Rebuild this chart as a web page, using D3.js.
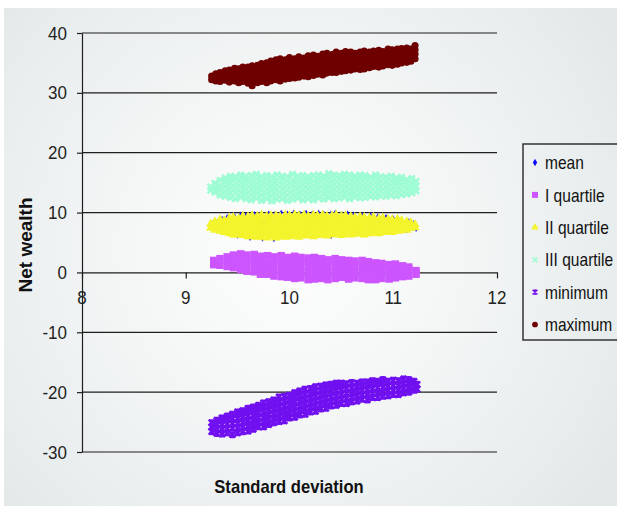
<!DOCTYPE html>
<html>
<head>
<meta charset="utf-8">
<script src="https://cdn.jsdelivr.net/npm/d3@7"></script>
<style>
  body { margin: 0; background: #fff; }
  svg { display: block; }
  text { font-family: "Liberation Sans", Arial, sans-serif; }
</style>
</head>
<body>
<svg id="chart" width="617" height="506"></svg>
<script>
// Axis ticks
const xTicks = [8, 9, 10, 11, 12];
const yTicks = [-30, -20, -10, 0, 10, 20, 30, 40];
const seriesNames = ["mean", "I quartile", "II quartile", "III quartile", "minimum", "maximum"];

// Each entry: [standard deviation, net wealth values observed at that standard deviation...]
const meanCols = [
  [9.24, 7.6], [9.26, 8.3], [9.29, 8.6], [9.35, 9.0], [9.40, 9.3], [9.47, 9.5], [9.53, 9.7],
  [9.58, 9.6], [9.66, 9.8], [9.72, 9.7], [9.80, 9.9], [9.86, 9.8], [9.92, 10.0], [9.98, 9.9],
  [10.04, 10.0], [10.10, 9.9], [10.16, 10.0], [10.22, 9.9], [10.28, 10.0], [10.33, 9.9],
  [10.40, 9.9, 6.0], [10.44, 10.0], [10.50, 9.8, 7.9], [10.56, 9.9], [10.62, 9.7], [10.70, 9.6],
  [10.78, 9.6], [10.85, 9.4], [10.93, 9.3], [11.00, 9.1], [11.08, 8.9], [11.15, 8.6],
  [11.20, 8.3], [11.22, 7.2], [11.18, 7.5], [11.21, 7.9], [11.13, 7.0],
  [9.50, 6.1], [9.62, 5.7], [9.74, 5.6], [9.85, 5.5],
  [9.60, 7.5], [9.90, 7.8], [10.20, 7.6], [10.80, 7.7], [9.75, 8.4], [10.05, 6.9],
  [10.35, 8.2], [10.65, 7.0], [10.95, 8.0]
];

const q1Cols = [
  [9.27, 1.3, 2.0], [9.33, 1.2, 2.3], [9.40, 1.0, 2.0, 2.6], [9.46, 0.8, 1.8, 2.9],
  [9.53, 0.5, 1.5, 2.4, 3.1], [9.59, 0.2, 1.3, 2.3, 2.9], [9.66, 0.1, 1.0, 2.1, 3.0],
  [9.72, -0.3, 0.8, 1.8, 2.7], [9.79, -0.3, 0.7, 1.6, 2.8], [9.85, -0.6, 0.5, 1.5, 2.4, 2.6],
  [9.92, -0.7, 0.3, 1.3, 2.2, 2.8], [9.98, -0.8, 0.2, 1.2, 2.1, 2.5], [10.05, -1.0, 0.1, 1.1, 2.0, 2.7],
  [10.11, -0.9, 0.0, 1.0, 1.9, 2.5], [10.18, -1.2, -0.2, 0.9, 1.8, 2.4], [10.24, -1.1, -0.1, 0.8, 1.9, 2.5],
  [10.31, -1.0, 0.0, 1.0, 2.0, 2.3], [10.37, -1.2, -0.1, 0.9, 1.8, 2.1], [10.44, -1.0, 0.0, 1.0, 2.0, 2.3],
  [10.50, -0.8, 0.1, 1.1, 2.1], [10.57, -1.1, 0.0, 1.0, 2.0], [10.63, -0.9, 0.1, 1.1, 1.9],
  [10.70, -1.0, 0.0, 1.0, 2.0], [10.76, -1.2, -0.1, 0.9, 1.8], [10.83, -1.2, -0.1, 0.8, 1.6],
  [10.89, -1.0, 0.0, 1.0, 1.5], [10.96, -1.1, 0.0, 0.9, 1.3], [11.02, -0.9, 0.1, 1.1, 1.4],
  [11.09, -0.7, 0.2, 1.1], [11.15, -0.6, 0.4, 0.9], [11.22, -0.3, 0.3]
];

const q2Cols = [
  [9.24, 7.4, 8.1], [9.28, 7.1, 7.8, 8.5], [9.33, 6.9, 7.6, 8.3, 8.8], [9.37, 6.7, 7.4, 8.1, 8.7],
  [9.42, 6.5, 7.2, 7.9, 8.6, 9.1], [9.46, 6.3, 7.1, 7.8, 8.5, 9.2], [9.51, 6.3, 7.0, 7.7, 8.4, 9.0],
  [9.55, 6.2, 6.9, 7.6, 8.3, 9.0, 9.4], [9.60, 6.0, 6.8, 7.5, 8.2, 8.9, 9.3],
  [9.64, 6.0, 6.7, 7.4, 8.1, 8.8, 9.5], [9.69, 5.9, 6.7, 7.4, 8.1, 8.8, 9.4],
  [9.73, 5.9, 6.6, 7.3, 8.0, 8.7, 9.6], [9.78, 5.8, 6.6, 7.3, 8.0, 8.7, 9.4],
  [9.82, 6.0, 6.7, 7.4, 8.1, 8.8, 9.5], [9.87, 5.8, 6.6, 7.3, 8.0, 8.7, 9.5],
  [9.91, 6.0, 6.7, 7.4, 8.1, 8.8, 9.3], [9.96, 5.9, 6.6, 7.3, 8.0, 8.7, 9.6],
  [10.00, 6.0, 6.7, 7.4, 8.1, 8.8, 9.5], [10.05, 6.1, 6.8, 7.5, 8.2, 8.9, 9.6],
  [10.09, 5.9, 6.7, 7.4, 8.1, 8.8, 9.5], [10.14, 6.1, 6.8, 7.5, 8.2, 8.9, 9.6],
  [10.18, 6.2, 6.9, 7.6, 8.3, 9.0, 9.4], [10.23, 6.0, 6.8, 7.5, 8.2, 8.9, 9.6],
  [10.27, 6.2, 6.9, 7.6, 8.3, 9.0, 9.5], [10.32, 6.3, 7.0, 7.7, 8.4, 9.1, 9.6],
  [10.36, 6.1, 6.9, 7.6, 8.3, 9.0, 9.4], [10.41, 6.3, 7.0, 7.7, 8.4, 9.1, 9.5],
  [10.45, 6.4, 7.1, 7.8, 8.5, 9.2, 9.6], [10.50, 6.2, 7.0, 7.7, 8.4, 9.1, 9.4],
  [10.54, 6.4, 7.1, 7.8, 8.5, 9.2, 9.5], [10.59, 6.3, 7.0, 7.7, 8.4, 9.1, 9.3],
  [10.63, 6.4, 7.1, 7.8, 8.5, 9.2], [10.68, 6.5, 7.2, 7.9, 8.6, 9.3],
  [10.72, 6.3, 7.1, 7.8, 8.5, 9.2], [10.77, 6.5, 7.2, 7.9, 8.6, 9.1],
  [10.81, 6.6, 7.3, 8.0, 8.7, 9.2], [10.86, 6.5, 7.2, 7.9, 8.6, 9.0],
  [10.90, 6.7, 7.4, 8.1, 8.8, 9.1], [10.95, 6.8, 7.5, 8.2, 8.9], [10.99, 6.7, 7.5, 8.2, 8.8],
  [11.04, 6.9, 7.6, 8.3, 8.9], [11.08, 7.0, 7.7, 8.4, 8.7], [11.13, 7.1, 7.8, 8.5],
  [11.17, 7.4, 7.9, 8.3], [11.21, 7.5, 8.0]
];

const q3Cols = [
  [9.24, 13.7, 14.3], [9.28, 13.4, 14.1, 14.9], [9.33, 12.9, 13.7, 14.5, 15.4],
  [9.38, 12.7, 13.5, 14.3, 15.1, 15.8], [9.43, 12.5, 13.3, 14.1, 14.9, 15.7, 16.1],
  [9.48, 12.3, 13.2, 14.0, 14.8, 15.6, 16.0], [9.53, 12.6, 13.4, 14.2, 15.0, 15.8, 16.3],
  [9.58, 12.3, 13.1, 13.9, 14.7, 15.5, 16.1], [9.63, 12.1, 13.0, 13.8, 14.6, 15.4, 16.2],
  [9.68, 12.4, 13.2, 14.0, 14.8, 15.6, 16.4], [9.73, 12.0, 12.9, 13.7, 14.5, 15.3, 16.0],
  [9.78, 12.3, 13.1, 13.9, 14.7, 15.5, 16.2], [9.83, 11.9, 12.8, 13.6, 14.4, 15.2, 16.0],
  [9.88, 12.2, 13.0, 13.8, 14.6, 15.4, 16.3], [9.93, 12.3, 13.1, 13.9, 14.7, 15.5, 16.1],
  [9.98, 12.0, 12.9, 13.7, 14.5, 15.3, 16.0], [10.03, 12.2, 13.0, 13.8, 14.6, 15.4, 16.4],
  [10.08, 12.4, 13.2, 14.0, 14.8, 15.6, 16.1], [10.13, 12.1, 13.0, 13.8, 14.6, 15.4, 16.2],
  [10.18, 12.3, 13.1, 13.9, 14.7, 15.5, 16.0], [10.23, 12.1, 12.9, 13.7, 14.5, 15.3, 16.2],
  [10.28, 12.4, 13.2, 14.0, 14.8, 15.6, 16.3], [10.33, 12.2, 13.1, 13.9, 14.7, 15.5, 16.1],
  [10.38, 12.5, 13.3, 14.1, 14.9, 15.7, 16.5], [10.43, 12.3, 13.1, 13.9, 14.7, 15.5, 16.3],
  [10.48, 12.4, 13.2, 14.0, 14.8, 15.6, 16.2], [10.53, 12.6, 13.3, 14.1, 14.9, 15.7, 16.4],
  [10.58, 12.3, 13.1, 13.9, 14.7, 15.5, 16.3], [10.63, 12.6, 13.4, 14.2, 15.0, 15.8, 16.1],
  [10.68, 12.4, 13.2, 14.0, 14.8, 15.6, 16.3], [10.73, 12.5, 13.3, 14.1, 14.9, 15.7, 16.2],
  [10.78, 12.7, 13.5, 14.3, 15.1, 15.9], [10.83, 12.6, 13.4, 14.2, 15.0, 15.8, 16.3],
  [10.88, 12.8, 13.6, 14.4, 15.2, 16.0], [10.93, 12.7, 13.5, 14.3, 15.1, 15.9],
  [10.98, 12.9, 13.7, 14.5, 15.3, 16.1], [11.03, 12.8, 13.6, 14.4, 15.2, 15.8],
  [11.08, 13.0, 13.8, 14.6, 15.4, 15.9], [11.13, 13.1, 13.9, 14.7, 15.5],
  [11.18, 13.3, 14.1, 14.9, 15.7], [11.22, 13.6, 14.4, 15.2]
];

const minCols = [
  [9.25, -26.6, -25.8, -25.1], [9.30, -26.9, -26.1, -25.3, -24.7],
  [9.35, -27.0, -26.2, -25.4, -24.6, -24.3], [9.40, -26.8, -26.1, -25.3, -24.5, -24.0],
  [9.45, -27.1, -26.0, -25.3, -24.4, -23.7], [9.50, -26.8, -26.0, -25.2, -24.4, -23.6, -23.3],
  [9.55, -26.6, -25.8, -25.1, -24.2, -23.4, -23.1], [9.60, -26.5, -25.7, -24.8, -24.0, -23.2, -22.7],
  [9.65, -26.2, -25.4, -24.6, -23.9, -23.0, -22.5], [9.70, -25.8, -25.1, -24.3, -23.5, -22.7, -22.2],
  [9.75, -25.8, -24.9, -24.2, -23.3, -22.5, -21.8], [9.80, -25.4, -24.6, -23.8, -23.0, -22.3, -21.6],
  [9.85, -25.1, -24.4, -23.6, -22.8, -22.0, -21.3], [9.90, -24.9, -24.1, -23.4, -22.5, -21.7, -20.8],
  [9.95, -24.8, -23.9, -23.1, -22.3, -21.5, -20.7], [10.00, -24.3, -23.6, -22.8, -22.1, -21.2, -20.5],
  [10.05, -24.2, -23.3, -22.5, -21.7, -20.9, -20.1], [10.10, -23.8, -23.1, -22.3, -21.5, -20.6, -19.8],
  [10.15, -23.7, -22.8, -22.0, -21.2, -20.4, -19.5], [10.20, -23.3, -22.6, -21.8, -21.0, -20.2, -19.4],
  [10.25, -23.2, -22.3, -21.5, -20.7, -19.9, -19.1], [10.30, -22.8, -22.1, -21.3, -20.5, -19.7, -19.0],
  [10.35, -22.7, -21.8, -21.0, -20.2, -19.4, -18.8], [10.40, -22.3, -21.6, -20.8, -20.0, -19.2, -18.7],
  [10.45, -22.2, -21.4, -20.6, -19.8, -19.0, -18.5], [10.50, -21.9, -21.2, -20.4, -19.6, -18.8, -18.5],
  [10.55, -21.9, -21.0, -20.2, -19.4, -18.6], [10.60, -21.6, -20.9, -20.1, -19.3, -18.4],
  [10.65, -21.5, -20.7, -19.9, -19.1, -18.5], [10.70, -21.2, -20.5, -19.7, -18.9, -18.3],
  [10.75, -21.3, -20.4, -19.6, -18.8, -18.3], [10.80, -20.9, -20.2, -19.4, -18.6, -18.1],
  [10.85, -20.9, -20.1, -19.3, -18.5, -18.2], [10.90, -20.7, -20.0, -19.2, -18.4, -17.9],
  [10.95, -20.6, -19.8, -19.0, -18.2], [11.00, -20.4, -19.7, -18.9, -18.0],
  [11.05, -20.4, -19.6, -18.8, -18.1], [11.10, -20.1, -19.4, -18.6, -17.8],
  [11.15, -20.0, -19.2, -18.4, -17.9], [11.20, -19.7, -18.9, -18.2], [11.23, -19.5, -18.7]
];

const maxCols = [
  [9.25, 32.2, 32.8], [9.29, 32.0, 32.9, 33.2], [9.33, 31.9, 32.6, 33.4], [9.38, 32.1, 32.9, 33.7],
  [9.42, 31.8, 32.7, 33.5, 33.8], [9.47, 32.0, 32.8, 33.6, 34.1], [9.51, 31.7, 32.5, 33.3, 34.0],
  [9.55, 31.9, 32.8, 33.6, 34.3], [9.60, 31.6, 32.4, 33.3, 34.1, 34.3], [9.64, 31.2, 32.2, 33.0, 33.8, 34.5],
  [9.69, 31.7, 32.5, 33.4, 34.2, 34.6], [9.73, 31.9, 32.7, 33.6, 34.5, 34.9], [9.78, 31.7, 32.6, 33.5, 34.3, 35.0],
  [9.82, 32.0, 32.9, 33.7, 34.6, 35.3], [9.87, 32.2, 33.0, 33.9, 34.8, 35.5], [9.91, 32.0, 32.9, 33.8, 34.7, 35.7],
  [9.96, 32.3, 33.1, 34.0, 34.9, 35.5], [10.00, 32.4, 33.3, 34.1, 35.0, 35.9], [10.05, 32.5, 33.4, 34.3, 35.1, 35.7],
  [10.09, 32.6, 33.5, 34.3, 35.2, 36.0], [10.14, 32.8, 33.6, 34.5, 35.3, 35.8], [10.18, 32.7, 33.7, 34.6, 35.5, 36.2],
  [10.23, 32.9, 33.8, 34.7, 35.6, 36.3], [10.27, 33.1, 33.9, 34.8, 35.7, 36.1], [10.32, 33.0, 34.0, 34.9, 35.8, 36.5],
  [10.36, 33.3, 34.1, 35.0, 35.9, 36.6], [10.41, 33.4, 34.2, 35.1, 36.0, 36.4], [10.45, 33.4, 34.3, 35.2, 36.1, 36.8],
  [10.50, 33.6, 34.4, 35.3, 36.2, 36.6], [10.54, 33.7, 34.5, 35.4, 36.3, 36.9], [10.59, 33.8, 34.7, 35.6, 36.5, 36.8],
  [10.63, 34.0, 34.8, 35.7, 36.6], [10.68, 33.9, 34.9, 35.8, 36.8], [10.72, 34.0, 34.8, 35.7, 36.6, 37.0],
  [10.77, 34.2, 35.1, 36.0, 36.8], [10.81, 34.4, 35.2, 36.1, 37.0], [10.86, 34.3, 35.3, 36.2, 37.1],
  [10.90, 34.5, 35.4, 36.3, 36.9], [10.95, 34.7, 35.5, 36.4, 37.3], [10.99, 34.6, 35.6, 36.5, 37.2],
  [11.04, 34.8, 35.7, 36.6, 37.3], [11.08, 35.0, 35.8, 36.7, 37.4], [11.13, 35.1, 36.0, 36.9, 37.5],
  [11.17, 35.3, 36.1, 37.0, 37.3], [11.21, 35.7, 36.5, 37.2, 37.9]
];

// ---------- drawing ----------
const svg = d3.select("#chart");
const defs = svg.append("defs");

const bg = defs.append("radialGradient").attr("id", "bgGrad")
  .attr("gradientUnits", "userSpaceOnUse")
  .attr("cx", 290).attr("cy", 250).attr("r", 380);
bg.append("stop").attr("offset", "0%").attr("stop-color", "#fdfdfd");
bg.append("stop").attr("offset", "45%").attr("stop-color", "#f4f6f6");
bg.append("stop").attr("offset", "100%").attr("stop-color", "#e3e9e9");

svg.append("rect").attr("x", 4).attr("y", 8).attr("width", 613).attr("height", 498)
  .attr("fill", "url(#bgGrad)");

const x = d3.scaleLinear().domain([8, 12]).range([82, 497]);
const y = d3.scaleLinear().domain([-30, 40]).range([452, 33]);

// horizontal gridlines
svg.append("g").selectAll("line").data(yTicks.filter(d => d !== 0)).join("line")
  .attr("x1", x(8)).attr("x2", x(12))
  .attr("y1", d => y(d)).attr("y2", d => y(d))
  .attr("stroke", "#1e1e1e").attr("stroke-width", 1.2);

// y axis
const yAxisG = svg.append("g").attr("transform", `translate(${x(8)},0)`)
  .call(d3.axisLeft(y).tickValues(yTicks).tickSize(5).tickSizeOuter(0).tickFormat(""));
yAxisG.selectAll("path,line").attr("stroke", "#1e1e1e").attr("stroke-width", 1.2);

// x axis crossing at zero
const xAxisG = svg.append("g").attr("transform", `translate(0,${y(0)})`)
  .call(d3.axisBottom(x).tickValues(xTicks).tickSize(6).tickSizeOuter(0).tickFormat(""));
xAxisG.selectAll("path,line").attr("stroke", "#1e1e1e").attr("stroke-width", 1.2);

// series points
const flat = cols => cols.flatMap(c => c.slice(1).map(v => ({ sd: c[0], w: v })));

const styles = {
  "mean":         { color: "#0a0aff", shape: "diamond" },
  "I quartile":   { color: "#cc55ff", shape: "square" },
  "II quartile":  { color: "#f4f42c", shape: "triangle" },
  "III quartile": { color: "#9dfcd4", shape: "x" },
  "minimum":      { color: "#7010f0", shape: "star" },
  "maximum":      { color: "#6e0000", shape: "circle" }
};

function marker(shape, s) {
  switch (shape) {
    case "diamond":  return d3.symbol(d3.symbolDiamond, 9 * s * s)();
    case "square":   return d3.symbol(d3.symbolSquare, 56 * s * s)();
    case "triangle": return d3.symbol(d3.symbolTriangle, 38 * s * s)();
    case "circle":   return d3.symbol(d3.symbolCircle, 40 * s * s)();
    case "x": { const h = 3 * s; return `M${-h},${-h}L${h},${h}M${-h},${h}L${h},${-h}`; }
    case "star": { const h = 3 * s; return `M${-h},${-h}L${h},${h}M${-h},${h}L${h},${-h}M0,${-h - 0.5}L0,${h + 0.5}`; }
  }
}

function drawSeries(name, cols) {
  const st = styles[name];
  const stroked = st.shape === "x" || st.shape === "star";
  const path = marker(st.shape, 1);
  svg.append("g").attr("class", "series")
    .selectAll("path").data(flat(cols)).join("path")
    .attr("transform", d => `translate(${x(d.sd)},${y(d.w)})`)
    .attr("d", path)
    .attr("fill", stroked ? "none" : st.color)
    .attr("stroke", stroked ? st.color : "none")
    .attr("stroke-width", stroked ? 2.6 : 0);
}

drawSeries("mean", meanCols);
drawSeries("I quartile", q1Cols);
drawSeries("II quartile", q2Cols);
drawSeries("III quartile", q3Cols);
drawSeries("minimum", minCols);
drawSeries("maximum", maxCols);

// tick labels
svg.append("g").selectAll("text").data(yTicks).join("text")
  .attr("transform", d => `translate(67,${y(d)}) scale(1,1.08)`)
  .attr("text-anchor", "end").attr("dy", "0.36em")
  .attr("font-size", 17).attr("fill", "#222")
  .text(d => String(d));

svg.append("g").selectAll("text").data(xTicks).join("text")
  .attr("transform", d => `translate(${x(d)},297) scale(1,1.08)`)
  .attr("text-anchor", "middle").attr("dy", "0.36em")
  .attr("font-size", 17).attr("fill", "#222")
  .text(d => String(d));

// axis titles
svg.append("text")
  .attr("transform", "translate(289,493) scale(1,1.07)")
  .attr("text-anchor", "middle").attr("font-weight", "bold").attr("font-size", 16.6)
  .attr("fill", "#111").text("Standard deviation");

svg.append("text")
  .attr("transform", "translate(32,245) rotate(-90)")
  .attr("text-anchor", "middle").attr("font-weight", "bold").attr("font-size", 19)
  .attr("fill", "#111").text("Net wealth");

// legend
const legend = svg.append("g");
legend.append("rect").attr("x", 523).attr("y", 144).attr("width", 110).attr("height", 196)
  .attr("fill", "none").attr("stroke", "#333").attr("stroke-width", 1.5);
const items = legend.selectAll("g.item").data(seriesNames).join("g")
  .attr("class", "item")
  .attr("transform", (d, i) => `translate(0,${162.5 + i * 32.4})`);
items.append("path")
  .attr("transform", "translate(535,0)")
  .attr("d", d => d === "mean" ? d3.symbol(d3.symbolDiamond, 16)() : marker(styles[d].shape, 0.8))
  .attr("fill", d => (styles[d].shape === "x" || styles[d].shape === "star") ? "none" : styles[d].color)
  .attr("stroke", d => (styles[d].shape === "x" || styles[d].shape === "star") ? styles[d].color : "none")
  .attr("stroke-width", 1.6);
items.append("text")
  .attr("transform", "translate(545,0) scale(0.97,1.15)")
  .attr("dy", "0.36em").attr("font-size", 16).attr("fill", "#111")
  .text(d => d);
</script>
</body>
</html>
